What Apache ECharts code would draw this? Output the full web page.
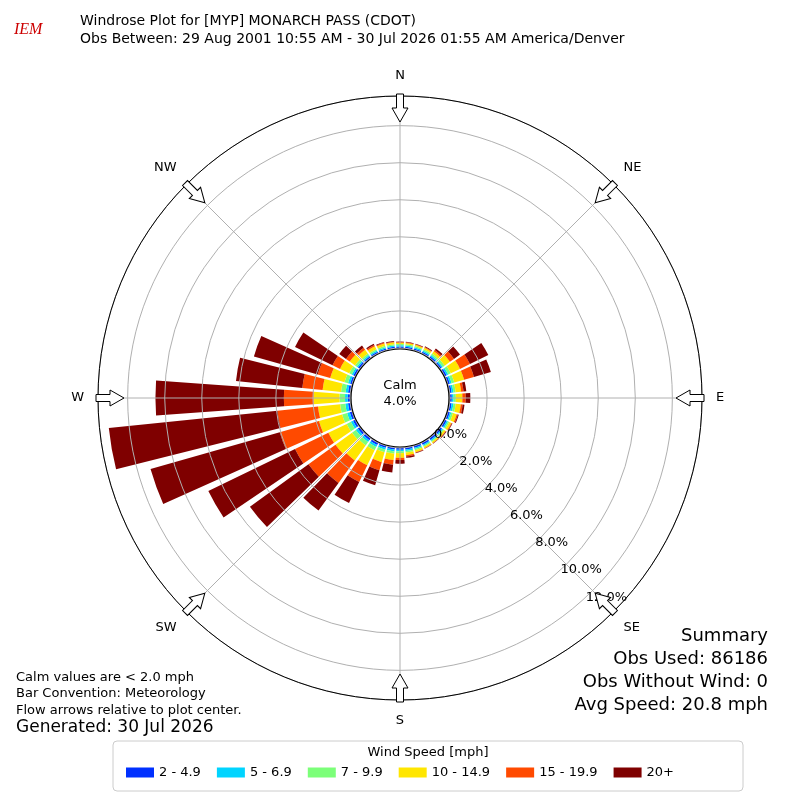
<!DOCTYPE html>
<html>
<head>
<meta charset="utf-8">
<script src="https://cdn.jsdelivr.net/npm/echarts@6/dist/echarts.min.js"></script>
<style>html,body{margin:0;padding:0;background:#fff}#chart{width:800px;height:800px}</style>
</head>
<body>
<div id="chart"></div>
<script>
// direction bins, degrees (meteorological, clockwise from N)
var directions = ['0','10','20','30','40','50','60','70','80','90','100','110','120','130','140','150','160','170',
                  '180','190','200','210','220','230','240','250','260','270','280','290','300','310','320','330','340','350'];
var speedBins = ['2 - 4.9', '5 - 6.9', '7 - 9.9', '10 - 14.9', '15 - 19.9', '20+'];
var binColors = ['#0030ff', '#00d4ff', '#7cff79', '#ffe600', '#ff4a00', '#7f0000'];

// percent of observations per direction
var s2to5   = [.08,.08,.08,.08,.08,.08,.1,.1,.1,.1,.1,.1,.1,.1,.1,.1,.1,.1,.1,.1,.1,.12,.12,.12,.12,.12,.12,.12,.12,.1,.1,.1,.08,.08,.08,.08];
var s5to7   = [.07,.07,.07,.07,.08,.08,.1,.1,.1,.1,.1,.08,.08,.07,.07,.07,.07,.08,.08,.1,.1,.12,.12,.13,.13,.15,.15,.15,.13,.12,.1,.08,.08,.07,.07,.07];
var s7to10  = [.07,.07,.07,.08,.1,.12,.15,.15,.12,.12,.12,.1,.08,.07,.06,.06,.07,.08,.1,.12,.15,.2,.22,.25,.25,.28,.28,.3,.25,.2,.15,.12,.1,.08,.08,.07];
var s10to15 = [.07,.07,.07,.09,.15,.35,.55,.55,.3,.35,.28,.2,.12,.1,.08,.08,.1,.15,.25,.35,.55,.9,1.0,1.1,1.1,1.3,1.2,1.4,1.0,.8,.55,.35,.25,.17,.13,.1];
var s15to20 = [.03,.03,.03,.04,.09,.27,.6,.55,.13,.18,.1,.07,.04,.03,.02,.02,.03,.07,.12,.25,.45,1.0,1.5,1.8,2.0,2.2,2.2,1.6,1.1,.7,.45,.25,.14,.08,.05,.04];
var s20plus = [.03,.03,.03,.04,.1,.4,1.1,.95,.15,.25,.1,.05,.03,.03,.02,.02,.03,.07,.2,.43,.85,1.26,1.84,3.9,5.2,7.25,9.15,6.93,3.6,3.58,2.25,.45,.15,.07,.04,.04];
var speedData = [s2to5, s5to7, s7to10, s10to15, s15to20, s20plus];

var compassNames = {0:'N',45:'NE',90:'E',135:'SE',180:'S',225:'SW',270:'W',315:'NW'};

var CX = 400, CY = 398, R_IN = 50, R_OUT = 302;

var chart = echarts.init(document.getElementById('chart'));

var series = [];
speedBins.forEach(function (name, i) {
    series.push({
        type: 'bar',
        name: name,
        coordinateSystem: 'polar',
        polarIndex: 0,
        stack: 'wind',
        data: speedData[i],
        barCategoryGap: '18%',
        itemStyle: {color: binColors[i]},
        z: 2
    });
});

// open arrows pointing to the centre at the 8 compass points
var graphics = [
    {type: 'circle', shape: {cx: CX, cy: CY, r: R_OUT}, style: {fill: null, stroke: '#000', lineWidth: 1}, z: 19}
];
[0, 45, 90, 135, 180, 225, 270, 315].forEach(function (deg) {
    var a = deg * Math.PI / 180;
    var rm = 290;
    graphics.push({
        type: 'polygon',
        x: CX + rm * Math.sin(a),
        y: CY - rm * Math.cos(a),
        rotation: -a,
        shape: {points: [[0, 14], [-8, 0], [-3.5, 0], [-3.5, -14], [3.5, -14], [3.5, 0], [8, 0]]},
        style: {fill: '#fff', stroke: '#000', lineWidth: 1},
        z: 20
    });
});

graphics = graphics.concat([
    {type: 'circle', shape: {cx: CX, cy: CY, r: R_IN - 1}, style: {fill: '#fff', stroke: '#000', lineWidth: 1.2}, z: 15},
    {type: 'text', x: CX, y: CY - 4, style: {text: 'Calm\n4.0%', font: '13px "DejaVu Sans"', fill: '#000', align: 'center', verticalAlign: 'middle', lineHeight: 16}, z: 16},
    {type: 'text', x: 14, y: 22, style: {text: 'IEM', font: 'italic 16px "Liberation Serif"', fill: '#c00'}},
    {type: 'text', x: 80, y: 12, style: {text: 'Windrose Plot for [MYP] MONARCH PASS (CDOT)\nObs Between: 29 Aug 2001 10:55 AM - 30 Jul 2026 01:55 AM America/Denver', font: '14px "DejaVu Sans"', fill: '#000', lineHeight: 18}},
    {type: 'text', right: 32, y: 625, style: {text: 'Summary\nObs Used: 86186\nObs Without Wind: 0\nAvg Speed: 20.8 mph', font: '18px "DejaVu Sans"', fill: '#000', align: 'right', lineHeight: 23}},
    {type: 'text', x: 16, y: 669, style: {text: 'Calm values are < 2.0 mph\nBar Convention: Meteorology\nFlow arrows relative to plot center.', font: '13px "DejaVu Sans"', fill: '#000', lineHeight: 16.5}},
    {type: 'text', x: 16, y: 719, style: {text: 'Generated: 30 Jul 2026', font: '17px "DejaVu Sans"', fill: '#000'}},
    {type: 'rect', shape: {x: 113, y: 741, width: 630, height: 50, r: 4}, style: {fill: '#fff', stroke: '#ccc'}, z: 0},
    {type: 'text', x: 428, y: 746, style: {text: 'Wind Speed [mph]', font: '13px "DejaVu Sans"', fill: '#000', align: 'center'}}
]);

var option = {
    animation: false,
    backgroundColor: '#fff',
    textStyle: {fontFamily: 'DejaVu Sans'},
    polar: [
        {center: [CX, CY], radius: [R_IN, R_OUT]},
        {center: [CX, CY], radius: [R_IN, R_OUT]},
        {center: [CX, CY], radius: [R_IN, R_OUT]}
    ],
    angleAxis: [{
        polarIndex: 0,
        type: 'category',
        data: directions,
        startAngle: 95,
        clockwise: true,
        axisLine: {show: false},
        axisTick: {show: false},
        axisLabel: {show: false},
        splitLine: {show: false},
        z: 1
    }, {
        polarIndex: 1,
        type: 'value',
        min: 0,
        max: 360,
        interval: 45,
        startAngle: 90,
        clockwise: true,
        axisLine: {show: false},
        axisTick: {show: false},
        axisLabel: {
            show: true, margin: 14, color: '#000', fontSize: 13,
            formatter: function (v) { return compassNames[v] || ''; }
        },
        splitLine: {show: true, lineStyle: {color: '#b0b0b0', width: 1}},
        z: 10
    }, {
        polarIndex: 2,
        type: 'value',
        min: 0,
        max: 360,
        startAngle: -47,
        show: false
    }],
    radiusAxis: [{
        polarIndex: 0,
        type: 'value',
        min: 0,
        max: 13.6,
        interval: 2,
        axisLine: {show: false},
        axisTick: {show: false},
        axisLabel: {show: false},
        splitLine: {show: true, lineStyle: {color: '#b0b0b0', width: 1}},
        z: 10
    }, {
        polarIndex: 1,
        type: 'value',
        min: 0,
        max: 13.6,
        show: false
    }, {
        polarIndex: 2,
        type: 'value',
        min: 0,
        max: 13.6,
        interval: 2,
        axisLine: {show: false},
        axisTick: {show: false},
        splitLine: {show: false},
        axisLabel: {
            show: true, color: '#000', fontSize: 13, margin: 0,
            formatter: function (v) { return v > 12.5 ? '' : v.toFixed(1) + '%'; }
        },
        z: 18
    }],
    legend: {
        data: speedBins,
        bottom: 16,
        left: 'center',
        itemWidth: 28,
        itemHeight: 10,
        itemGap: 16,
        icon: 'rect',
        textStyle: {fontSize: 13, color: '#000'}
    },
    graphic: graphics,
    series: series
};

chart.setOption(option);
</script>
</body>
</html>
